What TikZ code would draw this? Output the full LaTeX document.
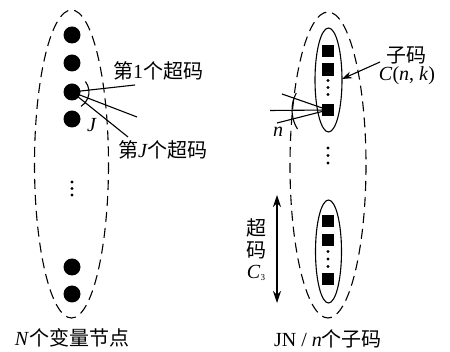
\documentclass[tikz,border=0pt]{standalone}
\usepackage{fontspec}
\setmainfont{Liberation Serif}
\newfontfamily\cjk{Noto Sans CJK SC}
\usetikzlibrary{arrows.meta}
\begin{document}
\begin{tikzpicture}[x=1pt,y=-1pt,
  dot/.style={circle,fill=black,inner sep=0pt,minimum size=17pt},
  sq/.style={rectangle,fill=black,inner sep=0pt,minimum size=12.5pt},
  sdot/.style={circle,fill=black,inner sep=0pt,minimum size=3.4pt},
  dash ell/.style={dashed,dash pattern=on 10pt off 6pt,line width=1.1pt},
  lbl/.style={inner sep=0pt,font=\fontsize{20}{23}\selectfont},
  ln/.style={line width=1.1pt}]
\useasboundingbox (0,0) rectangle (450,352);
% left group
\draw[dash ell] (71.5,164) ellipse [x radius=37, y radius=154];
\node[dot] (d1) at (72,35) {};
\node[dot] (d2) at (72,63) {};
\node[dot] (d3) at (72,92) {};
\node[dot] (d4) at (72,119) {};
\node[sdot] (v1) at (72,182) {};
\node[sdot] (v2) at (72,188.5) {};
\node[sdot] (v3) at (72,195) {};
\node[dot] (d5) at (72,267) {};
\node[dot] (d6) at (72,294) {};
\coordinate (e1) at (135,85);
\coordinate (e2) at (137,117);
\coordinate (e3) at (128,137);
\draw[ln] (d3.center) -- (e1);
\draw[ln] (d3.center) -- (e2);
\draw[ln] (d3.center) -- (e3);
\draw[ln] (d3.center) ++(-38:17) arc[start angle=-38, end angle=58, radius=17];
\node[lbl] (t1) at (158,71) {{\cjk 第}1{\cjk 个超码}};
\node[lbl] (tj) at (163,150) {{\cjk 第}\textit{J}{\cjk 个超码}};
\node[lbl] (lj) at (92,125) {\textit{J}};
\node[lbl] (tn) at (72,338) {\textit{N}{\cjk 个变量节点}};
% right group
\draw[dash ell] (328,165) ellipse [x radius=38, y radius=153];
\draw[ln] (328.5,80) ellipse [x radius=13.5, y radius=52];
\node[sq] (s1) at (328,51) {};
\node[sq] (s2) at (328,69.5) {};
\node[sdot] (u1) at (328,80.5) {};
\node[sdot] (u2) at (328,87.5) {};
\node[sdot] (u3) at (328,94.5) {};
\node[sq] (s3) at (328,110) {};
\node[sdot] (w1) at (328,148) {};
\node[sdot] (w2) at (328,155.5) {};
\node[sdot] (w3) at (328,163) {};
\draw[ln] (328.5,251.5) ellipse [x radius=13, y radius=51.5];
\node[sq] (b1) at (328,221) {};
\node[sq] (b2) at (328,240) {};
\node[sdot] (x1) at (328,251.5) {};
\node[sdot] (x2) at (328,259) {};
\node[sdot] (x3) at (328,266.5) {};
\node[sq] (b3) at (328,279) {};
\coordinate (f1) at (282,94);
\coordinate (f2) at (270,110.5);
\coordinate (f3) at (277,123);
\draw[ln] (s3.center) -- (f1);
\draw[ln] (s3.center) -- (f2);
\draw[ln] (s3.center) -- (f3);
\draw[ln] (s3.center) ++(-152:36) arc[start angle=-152, end angle=-212, radius=36];
\node[lbl] (ln) at (278,132) {\textit{n}};
\coordinate (ca) at (380,62);
\coordinate (cb) at (342,79);
\draw[ln,-{Stealth[length=10pt,width=7pt]}] (ca) -- (cb);
\node[lbl] (zm) at (406,55) {\cjk 子码};
\node[lbl] (cnk) at (407,76) {\textit{C}(\textit{n}, \textit{k})};
\coordinate (ua) at (277,195);
\coordinate (ub) at (277,303);
\draw[ln,{Stealth[length=12pt,width=8pt]}-{Stealth[length=12pt,width=8pt]}] (ua) -- (ub);
\node[lbl] (cc1) at (256,228) {\cjk 超};
\node[lbl] (cc2) at (256,250) {\cjk 码};
\node[lbl] (cc3) at (256,273) {\textit{C}\raisebox{-0.3ex}{\fontsize{9}{10}\selectfont 3}};
\node[lbl] (tr) at (328,339) {JN / \textit{n}{\cjk 个子码}};
\end{tikzpicture}
\end{document}
